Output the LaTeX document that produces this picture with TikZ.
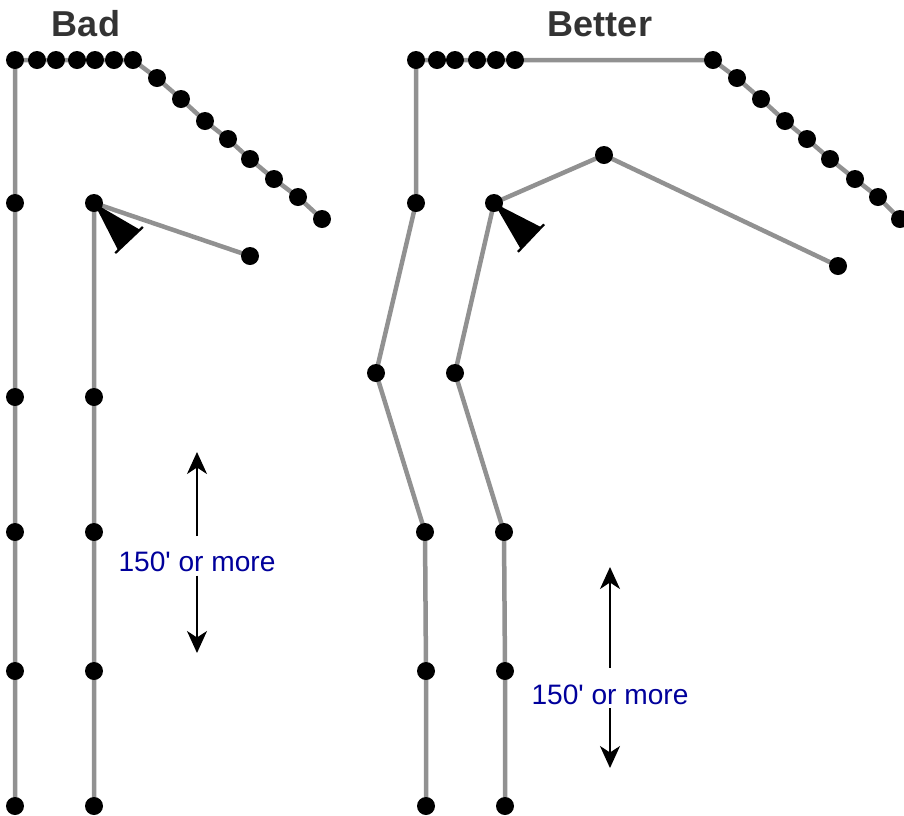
\documentclass[tikz,border=0pt]{standalone}
\usepackage{fontspec}
\setmainfont{Liberation Sans}
\usetikzlibrary{arrows.meta,backgrounds}
\definecolor{wire}{RGB}{145,145,145}
\definecolor{navy}{RGB}{0,0,155}
\definecolor{ink}{RGB}{51,51,51}
\tikzset{
  >={Stealth[length=4.4mm,width=4mm,inset=1.3mm]},
  dot/.style={circle,fill=black,inner sep=0pt,minimum size=3.6mm},
  run/.style={draw=wire,line width=0.9mm,line join=round},
  title/.style={font=\fontsize{20.5}{24}\selectfont\bfseries,text=ink,anchor=base,inner sep=0pt},
  span/.style={font=\fontsize{16}{19}\selectfont,text=navy,anchor=base,inner sep=0pt},
  gap/.style={->,line width=0.4mm,black},
  % pictogram
  pics/cam/.style={code={
    \fill[#1] (0,0) -- (51,-15) -- (51,15) -- cycle;
    \draw[#1,line width=0.45mm] (51,-19) -- (51,19);
  }},
  pics/cam/.default=black,
}
\begin{document}
\begin{tikzpicture}[x=0.2mm,y=-0.2mm]
  \useasboundingbox (0,0) rectangle (904,816);
  \node[title] (bad) at (86,36) {Bad};
  \node[title] (better) at (600,36) {Better};
  % bad layout
  \foreach \x [count=\i] in {15,37,56,77,95,114,133} \node[dot] (bt\i) at (\x,60) {};
  \foreach \x/\y [count=\i] in {157/78,181/99,205/121,228/139,250/159,274/179,298/197,322/219}
    \node[dot] (bd\i) at (\x,\y) {};
  \foreach \y [count=\i] in {203,397,532,671,806}{
    \node[dot] (ba\i) at (15,\y) {};
    \node[dot] (bb\i) at (94,\y) {};
  }
  \node[dot] (bx) at (250,256) {};
  % better layout
  \foreach \x [count=\i] in {416,437,455,477,496,515} \node[dot] (ct\i) at (\x,60) {};
  \node[dot] (cn) at (713,60) {};
  \foreach \x/\y [count=\i] in {737/78,761/99,785/121,807/139,830/159,855/179,878/197,900/219}
    \node[dot] (cd\i) at (\x,\y) {};
  \foreach \x/\y [count=\i] in {416/203,376/373,425/532,426/671,426/806} \node[dot] (ca\i) at (\x,\y) {};
  \foreach \x/\y [count=\i] in {494/203,455/373,504/532,505/671,505/806} \node[dot] (cb\i) at (\x,\y) {};
  \node[dot] (cp) at (604,155) {};
  \node[dot] (cq) at (838,266) {};
  \begin{scope}[on background layer]
    \draw[run] (ba5.center) -- (bt1.center) -- (bt7.center) \foreach \i in {1,...,8} {-- (bd\i.center)};
    \draw[run] (bb5.center) -- (bb1.center) -- (bx.center);
    \draw[run] (ca5.center) \foreach \i in {4,3,2,1} {-- (ca\i.center)} -- (ct1.center) -- (cn.center)
      \foreach \i in {1,...,8} {-- (cd\i.center)};
    \draw[run] (cb5.center) \foreach \i in {4,3,2,1} {-- (cb\i.center)} -- (cp.center) -- (cq.center);
  \end{scope}
  \pic[rotate=-46.6] at (bb1) {cam};
  \pic[rotate=-43.5] at (cb1) {cam};
  % spacing notes
  \node[span] (bl) at (197,571) {150\textquotesingle{} or more};
  \coordinate (bup) at (197,452);
  \coordinate (bdn) at (197,653);
  \draw[gap] ([yshift=3mm]bl.north) -- (bup);
  \draw[gap] ([yshift=-0.8mm]bl.south) -- (bdn);
  \node[span] (cl) at (610,704) {150\textquotesingle{} or more};
  \coordinate (cup) at (610,567);
  \coordinate (cdn) at (610,768);
  \draw[gap] ([yshift=3.3mm]cl.north) -- (cup);
  \draw[gap] ([yshift=-0.7mm]cl.south) -- (cdn);
\end{tikzpicture}
\end{document}
